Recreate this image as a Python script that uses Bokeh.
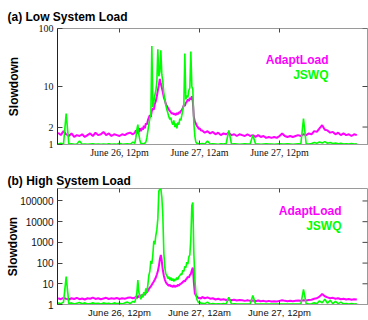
from math import pi
from bokeh.plotting import figure
from bokeh.layouts import column
from bokeh.models import Range1d, FixedTicker, Label
from bokeh.embed import file_html
from bokeh.resources import INLINE

# time axis in hours since June 26, 00:00
hours = [
    2.8, 3.2, 3.6, 4.0, 4.4, 4.8, 5.2, 5.6, 6.0, 6.4,
    6.8, 7.2, 7.6, 8.0, 8.4, 8.8, 9.2, 9.6, 10.0, 10.4,
    10.8, 11.2, 11.6, 12.0, 12.4, 12.8, 13.2, 13.6, 14.0,
    14.3, 14.45, 14.6, 14.75, 14.9, 15.05, 15.2, 15.35, 15.5, 15.65,
    15.8, 15.95, 16.1, 16.25, 16.4, 16.55, 16.7, 16.85, 17.0, 17.15,
    17.3, 17.45, 17.6, 17.75, 17.9, 18.05, 18.2, 18.35, 18.5, 18.65,
    18.8, 18.95, 19.1, 19.25, 19.4, 19.55, 19.7, 19.85, 20.0, 20.15,
    20.3, 20.45, 20.6, 20.75, 20.9, 21.05, 21.2, 21.35, 21.5, 21.65,
    21.8, 21.95, 22.1, 22.25, 22.4, 22.55, 22.7, 22.85, 23.0, 23.15,
    23.3, 23.45, 23.6, 23.75, 23.9, 24.05, 24.2,
    24.4, 24.8, 25.2, 25.6, 26.0, 26.4, 26.8, 27.2, 27.6, 28.0,
    28.4, 28.8, 29.2, 29.6, 30.0, 30.4, 30.8, 31.2, 31.6, 32.0,
    32.4, 32.8, 33.2, 33.6, 34.0, 34.4, 34.8, 35.2, 35.6, 36.0,
    36.4, 36.8, 37.2, 37.6, 38.0, 38.4, 38.8, 39.2, 39.6, 40.0,
    40.4, 40.8, 41.2, 41.6, 42.0, 42.4, 42.8, 43.2, 43.6, 44.0,
    44.4, 44.8, 45.2, 45.6, 46.0, 46.4, 46.8, 47.2, 47.6,
]

adapt_low = [
    1.6, 1.45, 1.7, 1.5, 1.4, 1.55, 1.35, 1.45, 1.4, 1.5,
    1.35, 1.45, 1.55, 1.4, 1.6, 1.45, 1.5, 1.65, 1.45, 1.55,
    1.4, 1.5, 1.45, 1.4, 1.5, 1.45, 1.55, 1.6, 1.5,
    1.6, 1.75, 1.55, 1.8, 1.65, 1.9, 1.7, 1.95, 1.8, 2.1,
    1.9, 2.3, 2.2, 2.6, 2.9, 3.2, 3.0, 3.8, 4.2, 4.0,
    5.0, 5.6, 6.8, 8.5, 10.5, 13.5, 11.0, 9.5, 8.0, 6.5,
    5.8, 5.0, 4.6, 4.3, 4.0, 3.8, 3.6, 3.4, 3.5, 3.3,
    3.4, 3.2, 3.5, 3.3, 3.6, 3.5, 3.8, 3.9, 4.3, 4.8,
    4.6, 5.2, 5.5, 6.0, 5.6, 6.4, 6.0, 6.8, 5.5, 3.0,
    2.5, 2.3, 2.1, 2.0, 1.85, 1.9, 1.75,
    1.75, 1.6, 1.7, 1.55, 1.65, 1.5, 1.6, 1.45, 1.55, 1.5,
    1.6, 1.45, 1.5, 1.4, 1.5, 1.45, 1.4, 1.5, 1.4, 1.45,
    1.35, 1.45, 1.35, 1.4, 1.3, 1.35, 1.3, 1.35, 1.3, 1.4,
    1.55, 1.4, 1.35, 1.4, 1.35, 1.4, 1.45, 1.4, 1.5, 1.45,
    1.55, 1.5, 1.7, 1.65, 1.9, 2.15, 1.8, 1.75, 1.6, 1.65,
    1.5, 1.6, 1.45, 1.55, 1.45, 1.5, 1.4, 1.5, 1.45,
]

jswq_low = [
    1.02, 1.05, 1.02, 3.4, 1.02, 1.03, 1.01, 1.02, 1.15, 1.01,
    1.02, 1.01, 1.02, 1.03, 1.01, 1.02, 1.01, 1.02, 1.01, 1.03,
    1.01, 1.02, 1.01, 1.05, 1.01, 1.02, 1.03, 1.01, 1.1,
    1.05, 1.3, 1.8, 2.2, 1.5, 1.2, 1.05, 1.02, 1.04, 1.02,
    1.05, 1.1, 1.3, 1.7, 2.2, 2.8, 3.2, 50, 4.4, 5.5,
    7.0, 8.5, 12, 44, 15, 18, 42, 16, 12, 7.5,
    6.0, 4.8, 4.0, 3.5, 3.0, 2.7, 2.9, 2.4, 2.2, 2.6,
    2.0, 2.3, 1.9, 2.4, 2.2, 2.8, 2.6, 3.2, 4.0, 4.8,
    37, 6.0, 7.0, 6.5, 8.5, 9.5, 40, 10, 9, 2.3,
    1.4, 1.1, 1.05, 1.02, 1.04, 1.02, 1.03,
    1.04, 1.02, 1.15, 1.02, 1.03, 1.02, 1.01, 1.03, 1.02, 1.04,
    1.75, 1.02, 1.03, 1.02, 1.01, 1.02, 1.03, 1.02, 1.02, 1.45,
    1.03, 1.02, 1.01, 1.02, 1.03, 1.02, 1.02, 1.01, 1.02, 1.03,
    1.02, 1.02, 1.03, 1.02, 1.01, 1.02, 1.03, 1.02, 2.8, 1.03,
    1.02, 1.04, 1.08, 1.05, 1.1, 1.06, 1.12, 1.05, 1.08, 1.04,
    1.06, 1.03, 1.05, 1.02, 1.03, 1.02, 1.04, 1.02, 1.03,
]

adapt_high = [
    2.0, 1.8, 2.1, 1.9, 1.75, 2.0, 1.85, 2.1, 1.8, 1.95,
    1.75, 2.0, 1.9, 2.15, 1.85, 2.0, 1.8, 1.95, 2.1, 1.85,
    2.0, 1.9, 2.05, 1.85, 2.0, 1.9, 2.1, 2.2, 2.0,
    2.1, 2.4, 2.0, 2.6, 2.2, 2.8, 2.4, 3.0, 2.6, 3.3,
    2.9, 3.6, 4.0, 4.5, 5.5, 6.5, 7.5, 9, 11, 13,
    16, 20, 28, 40, 70, 150, 250, 120, 45, 25,
    16, 12, 10, 9, 8, 9, 7.5, 8, 7, 8.5,
    7, 8, 7.5, 9, 8, 9.5, 10, 11, 12, 14,
    13, 16, 18, 22, 20, 26, 30, 45, 60, 12,
    3.5, 2.8, 2.4, 2.2, 2.0, 2.1, 1.9,
    2.3, 2.0, 2.2, 1.9, 2.0, 1.75, 1.9, 1.7, 1.8, 1.65,
    1.75, 1.6, 1.7, 1.55, 1.65, 1.6, 1.5, 1.6, 1.5, 1.55,
    1.45, 1.55, 1.45, 1.5, 1.4, 1.5, 1.4, 1.45, 1.4, 1.5,
    1.6, 1.5, 1.45, 1.5, 1.45, 1.5, 1.55, 1.5, 1.6, 1.55,
    1.65, 1.7, 1.9, 2.0, 2.4, 3.2, 2.5, 2.2, 2.0, 2.1,
    1.9, 2.0, 1.8, 1.9, 1.75, 1.85, 1.7, 1.8, 1.75,
]

jswq_high = [
    1.2, 1.1, 1.3, 22, 1.1, 1.2, 1.05, 1.15, 1.25, 1.1,
    1.2, 1.05, 1.1, 1.2, 1.1, 1.15, 1.05, 1.2, 1.1, 1.15,
    1.05, 1.2, 1.1, 1.15, 1.05, 1.2, 1.3, 1.1, 1.4,
    1.3, 2.0, 3.5, 15, 4.0, 2.5, 1.8, 3.0, 2.2, 4.0,
    2.8, 6.0, 3.5, 9, 25, 40, 130, 90, 250, 1200,
    800, 2200, 4000, 14000, 300000, 380000, 400000, 150000, 20000, 300,
    60, 30, 25, 18, 22, 15, 20, 14, 18, 13,
    17, 15, 20, 16, 22, 25, 30, 28, 45, 40,
    70, 60, 110, 90, 200, 250, 1500, 60000, 85000, 300,
    18, 3.8, 1.8, 1.4, 1.2, 1.3, 1.15,
    1.15, 1.1, 1.3, 1.05, 1.1, 1.05, 1.08, 1.05, 1.1, 1.05,
    2.2, 1.05, 1.08, 1.05, 1.04, 1.06, 1.05, 1.04, 1.06, 2.7,
    1.05, 1.04, 1.06, 1.05, 1.04, 1.05, 1.06, 1.04, 1.05, 1.06,
    1.05, 1.04, 1.06, 1.05, 1.04, 1.05, 1.06, 1.05, 5.3, 1.1,
    1.05, 1.08, 1.2, 1.1, 1.5, 1.2, 1.8, 1.15, 1.6, 1.1,
    1.4, 1.1, 1.3, 1.08, 1.1, 1.05, 1.1, 1.05, 1.08,
]

x_tick_hours = [12, 24, 36]
x_tick_labels = ["June 26, 12pm", "June 27, 12am", "June 27, 12pm"]
low_y_ticks = [1, 2, 10, 100]
high_y_ticks = [1, 10, 100, 1000, 10000, 100000]
series_names = ["AdaptLoad", "JSWQ"]
panel_titles = ["(a) Low System Load", "(b) High System Load"]

for s in (adapt_low, jswq_low, adapt_high, jswq_high):
    assert len(s) == len(hours), (len(s), len(hours))

MAGENTA = "#ff00ff"
GREEN = "#00ff00"
FRAME = "#9a9a9a"
TICK = "#444444"
SANS = "Liberation Sans"
SERIF = "Liberation Serif"
X0, X1 = 2.7, 49.2


def make_panel(adapt, jswq, y_ticks, y_max, title, height, top, bottom,
               tick_font, xtick_size, ytick_size, title_standoff, ylab_standoff,
               leg_x, leg_y1, leg_y2):
    p = figure(width=368, height=height,
               x_range=Range1d(X0, X1), y_range=Range1d(1, y_max),
               y_axis_type="log", output_backend="svg", toolbar_location=None,
               min_border_left=57, min_border_right=1,
               min_border_top=top, min_border_bottom=bottom)
    p.xgrid.visible = False
    p.ygrid.visible = False
    p.outline_line_color = FRAME
    p.background_fill_color = "white"
    p.border_fill_color = "white"

    p.title.text = title
    p.title.text_font = SANS
    p.title.text_font_style = "bold"
    p.title.text_font_size = "12px"
    p.title.align = "left"
    p.title.offset = -50
    p.title.standoff = title_standoff
    p.title.text_color = "#000000"

    xa = p.xaxis[0]
    xa.ticker = FixedTicker(ticks=x_tick_hours)
    xa.major_label_overrides = {h: lab for h, lab in zip(x_tick_hours, x_tick_labels)}
    xa.major_tick_in = 4
    xa.major_tick_out = 0
    xa.minor_tick_in = 0
    xa.minor_tick_out = 0
    xa.axis_line_color = FRAME
    xa.major_tick_line_color = TICK
    xa.major_label_standoff = 2
    xa.major_label_text_font = tick_font
    xa.major_label_text_font_size = xtick_size
    xa.major_label_text_color = "#111111"

    ya = p.yaxis[0]
    ya.ticker = FixedTicker(ticks=y_ticks)
    ya.major_label_overrides = {t: str(t) for t in y_ticks}
    ya.major_tick_in = 5
    ya.major_tick_out = 0
    ya.minor_tick_in = 0
    ya.minor_tick_out = 0
    ya.axis_line_color = "#222222"
    ya.major_tick_line_color = TICK
    ya.major_label_standoff = 4
    ya.major_label_text_font = tick_font
    ya.major_label_text_font_size = ytick_size
    ya.major_label_text_color = "#111111"
    ya.axis_label = "Slowdown"
    ya.axis_label_text_font = SANS
    ya.axis_label_text_font_style = "bold"
    ya.axis_label_text_font_size = "12px"
    ya.axis_label_text_color = "#000000"
    ya.axis_label_standoff = ylab_standoff

    # inward tick marks mirrored on the top and right edges (half clipped by the frame)
    p.scatter(x=x_tick_hours, y=[y_max] * len(x_tick_hours), marker="dash",
              angle=pi / 2, size=8, line_color=TICK, line_width=1)
    p.scatter(x=[X1] * len(y_ticks), y=y_ticks, marker="dash",
              size=10, line_color=TICK, line_width=1)

    p.line(hours, adapt, line_color=MAGENTA, line_width=2.0)
    p.line(hours, jswq, line_color=GREEN, line_width=1.6)

    p.add_layout(Label(x=leg_x, y=leg_y1, text=series_names[0], text_font=SANS,
                       text_font_style="bold", text_font_size="12px",
                       text_align="right", text_baseline="middle", text_color=MAGENTA))
    p.add_layout(Label(x=leg_x, y=leg_y2, text=series_names[1], text_font=SANS,
                       text_font_style="bold", text_font_size="12px",
                       text_align="right", text_baseline="middle", text_color=GREEN))
    return p


p1 = make_panel(adapt_low, jswq_low, low_y_ticks, 100, panel_titles[0],
                160, 28, 14, SERIF, "10px", "10px", 9, 15,
                43.35, 28.7, 16.0)
p2 = make_panel(adapt_high, jswq_high, high_y_ticks, 400000, panel_titles[1],
                160, 28, 16, SANS, "9.5px", "10px", 2, -3,
                45.3, 31000, 5870)

layout = column(p1, p2, spacing=0)
open("out.html", "w").write(file_html(layout, INLINE))
